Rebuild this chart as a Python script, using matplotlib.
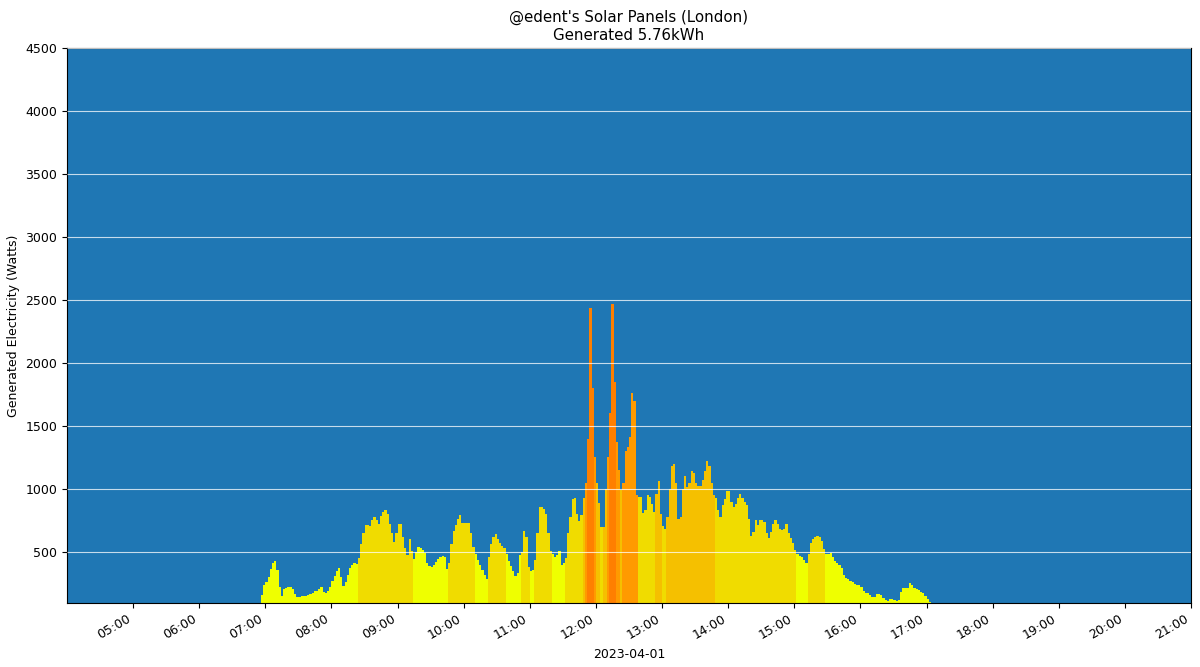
import matplotlib
matplotlib.use("Agg")
import matplotlib.pyplot as plt
import matplotlib.dates as mdates
from matplotlib.colors import ListedColormap, BoundaryNorm
import pandas as pd

# data: generated power every 2 minutes, starting 06:56
start = "2023-04-01 06:56"
watts = [
    160, 240, 264, 300, 365, 415, 425, 360, 220, 150,
    206, 214, 220, 220, 206, 165, 145, 140, 148, 150,
    152, 155, 168, 178, 190, 192, 205, 218, 186, 175,
    190, 220, 270, 310, 350, 370, 300, 230, 265, 320,
    370, 400, 410, 405, 450, 560, 650, 715, 715, 705,
    755, 780, 750, 720, 785, 820, 835, 805, 725, 648,
    575, 650, 720, 720, 620, 530, 476, 600, 505, 445,
    500, 537, 530, 515, 490, 410, 390, 380, 400, 420,
    442, 460, 468, 460, 365, 410, 560, 665, 715, 760,
    795, 730, 728, 728, 728, 650, 540, 480, 440, 395,
    360, 320, 285, 460, 560, 615, 645, 600, 570, 550,
    530, 480, 430, 390, 350, 312, 330, 476, 500, 670,
    620, 380, 350, 360, 440, 650, 855, 858, 840, 800,
    650, 505, 485, 463, 476, 510, 400, 415, 450, 650,
    775, 920, 926, 800, 745, 790, 930, 1050, 1400, 2440,
    1800, 1250, 1050, 890, 700, 700, 1000, 1250, 1600, 2470,
    1850, 1370, 1150, 995, 1045, 1300, 1330, 1416, 1760, 1700,
    950, 939, 939, 810, 830, 952, 940, 880, 820, 960,
    1060, 800, 705, 685, 780, 1000, 1180, 1195, 1050, 760,
    780, 1000, 1100, 1019, 1050, 1140, 1130, 1050, 1020, 1025,
    1070, 1140, 1225, 1180, 1050, 950, 930, 830, 780, 870,
    920, 980, 980, 900, 860, 880, 930, 960, 930, 900,
    870, 760, 630, 660, 750, 715, 755, 755, 740, 650,
    610, 655, 720, 750, 725, 680, 675, 680, 725, 648,
    610, 570, 516, 480, 470, 460, 435, 415, 480, 570,
    600, 615, 627, 622, 590, 520, 480, 480, 488, 460,
    430, 410, 395, 375, 320, 295, 283, 272, 262, 242,
    240, 240, 220, 190, 177, 177, 160, 145, 140, 165,
    167, 160, 135, 120, 112, 128, 130, 122, 114, 120,
    180, 212, 212, 215, 250, 235, 215, 204, 198, 185,
    172, 150, 125, 100,
]
total_kwh = 5.76

times = pd.date_range(start, periods=len(watts), freq="2min")

# colour bands by power level
level_colors = ["#efff00", "#f0dc00", "#f5c000", "#ff9a00", "#ff7f00"]
level_bounds = [0, 550, 1000, 1300, 2000, 5000]
cmap = ListedColormap(level_colors)
norm = BoundaryNorm(level_bounds, cmap.N)
peak = pd.Series(watts).rolling(3, center=True, min_periods=1).max()
colors = cmap(norm(peak.values))

plt.rcParams["font.size"] = 9

fig = plt.figure(figsize=(12, 6.67), dpi=100)
ax = fig.add_axes([0.0558, 0.096, 0.9367, 0.832])
ax.set_facecolor("#1f77b4")

ax.bar(times, watts, width=2 / 1440, align="edge", color=colors, linewidth=0)

ax.set_xlim(pd.Timestamp("2023-04-01 04:00"), pd.Timestamp("2023-04-01 21:00"))
ax.set_ylim(95, 4500)
ax.set_yticks(range(500, 4501, 500))
ax.xaxis.set_major_locator(mdates.HourLocator(byhour=range(5, 22)))
ax.xaxis.set_major_formatter(mdates.DateFormatter("%H:%M"))
for lbl in ax.get_xticklabels():
    lbl.set_rotation(30)
    lbl.set_ha("right")

ax.grid(axis="y", color="white", linewidth=0.8, alpha=0.75)
ax.set_axisbelow(False)

ax.set_title("@edent's Solar Panels (London)\nGenerated %.2fkWh" % total_kwh, fontsize=10.8)
ax.set_ylabel("Generated Electricity (Watts)")
ax.set_xlabel("2023-04-01")

fig.savefig("out.png", dpi=100)
